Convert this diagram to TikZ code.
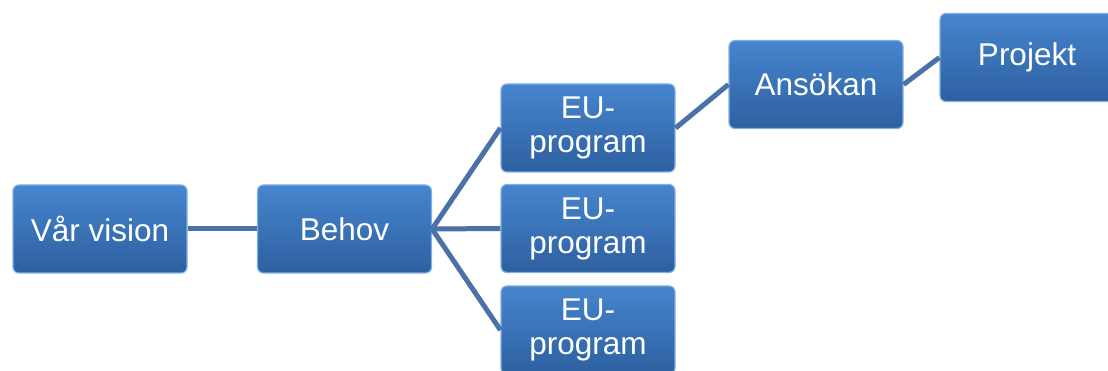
\documentclass[tikz,border=0pt]{standalone}
\usepackage{fontspec}
\setmainfont{Liberation Sans}
\begin{document}
\begin{tikzpicture}[x=1pt,y=-1pt,
  box/.style={rectangle, rounded corners=6pt, minimum width=174pt, minimum height=88pt,
    top color=boxtop, bottom color=boxbot, draw=boxedge, line width=1.2pt,
    text=white, font=\fontsize{31.5}{34}\selectfont, align=center, inner sep=0pt},
  link/.style={draw=linkc, line width=5pt}]
\definecolor{boxtop}{HTML}{4685CE}
\definecolor{boxbot}{HTML}{2D60A0}
\definecolor{boxedge}{HTML}{7FB0E4}
\definecolor{linkc}{HTML}{4A72A8}
\useasboundingbox (0,0) rectangle (1108,371);
\clip (0,0) rectangle (1108,371);
\node[box] (vis) at (100,229) {Vår vision};
\node[box] (beh) at (344.5,229) {Behov};
\node[box] (eu1) at (588,128) {EU-\\program};
\node[box] (eu2) at (588,228.5) {EU-\\program};
\node[box] (eu3) at (588,330) {EU-\\program};
\node[box] (ans) at (816,84.5) {Ansökan};
\node[box] (pro) at (1027,57.5) {Projekt};
\path[link] (vis.east) -- (beh.west);
\path[link] (beh.east) -- (eu1.west);
\path[link] (beh.east) -- (eu2.west);
\path[link] (beh.east) -- (eu3.west);
\path[link] (eu1.east) -- (ans.west);
\path[link] (ans.east) -- (pro.west);
\end{tikzpicture}
\end{document}
